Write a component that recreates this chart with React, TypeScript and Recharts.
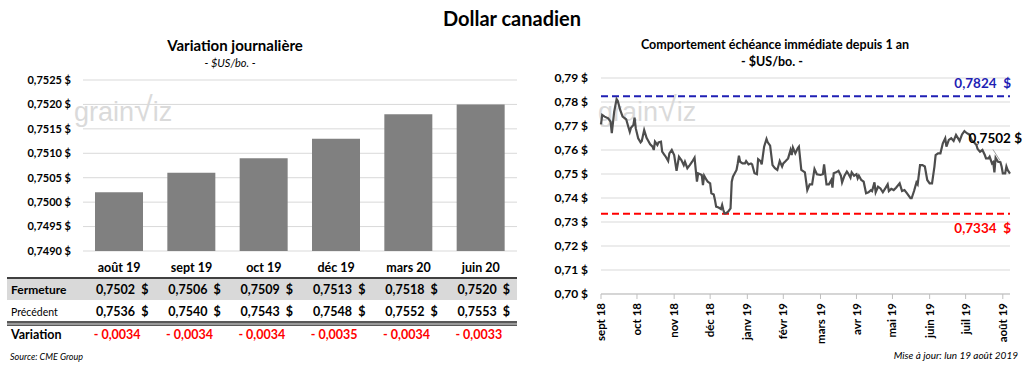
import React from "react";
import {
  BarChart,
  Bar,
  XAxis,
  YAxis,
  CartesianGrid,
  LineChart,
  Line,
  ReferenceLine,
  LabelList,
} from "recharts";

const FONT = "Lato, 'Open Sans', 'Liberation Sans', sans-serif";

// ---- Left panel data ----
const contractMonths = ["août 19", "sept 19", "oct 19", "déc 19", "mars 20", "juin 20"];
const closeValues = [0.7502, 0.7506, 0.7509, 0.7513, 0.7518, 0.752];
const previousValues = [0.7536, 0.754, 0.7543, 0.7548, 0.7552, 0.7553];
const variationValues = [-0.0034, -0.0034, -0.0034, -0.0035, -0.0034, -0.0033];
const barTicks = [0.749, 0.7495, 0.75, 0.7505, 0.751, 0.7515, 0.752, 0.7525];

// ---- Right panel data (days since start of axis, value) ----
const historyDays = [
  0, 1, 3, 6, 8, 9, 11, 13, 14, 16,
  18, 20, 21, 23, 24, 25, 27, 28, 29, 31,
  33, 34, 36, 38, 39, 41, 43, 44, 45, 47,
  48, 50, 51, 53, 54, 56, 57, 59, 61, 63,
  65, 67, 69, 70, 72, 74, 76, 78, 79, 80,
  81, 84, 85, 86, 88, 89, 91, 92, 94, 95,
  96, 98, 100, 101, 102, 103, 104, 106, 108, 109,
  110, 113, 114, 115, 116, 118, 120, 121, 123, 125,
  126, 128, 130, 131, 133, 134, 136, 138, 139, 141,
  143, 145, 147, 149, 151, 152, 154, 156, 158, 159,
  160, 162, 164, 165, 167, 170, 172, 174, 176, 178,
  180, 183, 185, 186, 188, 190, 192, 193, 194, 196,
  198, 200, 201, 203, 205, 206, 208, 209, 211, 213,
  214, 215, 217, 219, 221, 223, 225, 226, 228, 229,
  231, 233, 235, 237, 239, 240, 242, 244, 246, 249,
  251, 253, 255, 258, 259, 261, 263, 264, 266, 268,
  270, 272, 274, 276, 278, 279, 281, 283, 285, 287,
  288, 290, 292, 294, 296, 299, 301, 303, 305, 307,
  309, 311, 313, 314, 316, 318, 320, 321, 323, 324,
  326, 327, 328, 329, 331, 333, 334, 335, 337, 338,
  339, 341,
];
const historyValues = [
  0.7707, 0.7746, 0.7739, 0.7732, 0.7718, 0.767, 0.776, 0.7812, 0.7804, 0.7767,
  0.7739, 0.7732, 0.7728, 0.7693, 0.7676, 0.7693, 0.7704, 0.7735, 0.769, 0.7649,
  0.7632, 0.7638, 0.7683, 0.7651, 0.7642, 0.7624, 0.7614, 0.76, 0.7635, 0.7621,
  0.7632, 0.7635, 0.7593, 0.7579, 0.7572, 0.7554, 0.7586, 0.76, 0.7579, 0.7513,
  0.7572, 0.7558, 0.7537, 0.7551, 0.7524, 0.7537, 0.7551, 0.7568, 0.7517, 0.7468,
  0.7503, 0.7496, 0.7454, 0.7493, 0.7475, 0.7468, 0.7461, 0.742, 0.7415, 0.7392,
  0.7364, 0.736, 0.7354, 0.7371, 0.735, 0.7336, 0.7336, 0.7343, 0.7357, 0.7468,
  0.7489, 0.7517, 0.7544, 0.7576, 0.7551, 0.7544, 0.7544, 0.7554, 0.754, 0.7544,
  0.754, 0.7503, 0.7499, 0.7562, 0.7554, 0.754, 0.7614, 0.7646, 0.7632, 0.7618,
  0.7537, 0.7524, 0.7517, 0.7554, 0.7531, 0.7544, 0.7554, 0.7565, 0.76, 0.7579,
  0.761, 0.7586, 0.7607, 0.7614, 0.7517, 0.7507, 0.7433, 0.7457, 0.7457, 0.7521,
  0.7499, 0.7496, 0.7499, 0.754, 0.7457, 0.7457, 0.7475, 0.7443, 0.7503, 0.7507,
  0.7513, 0.7493, 0.7465, 0.7493, 0.751, 0.7503, 0.7485, 0.7507, 0.7493, 0.7499,
  0.7482, 0.7493, 0.7475, 0.7468, 0.742, 0.7424, 0.7433, 0.7429, 0.7465, 0.7424,
  0.7447, 0.744, 0.7424, 0.744, 0.7457, 0.7429, 0.7438, 0.7433, 0.7443, 0.7461,
  0.7429, 0.7433, 0.742, 0.7399, 0.7399, 0.7429, 0.7465, 0.7457, 0.7537, 0.7537,
  0.7531, 0.7475, 0.7461, 0.7461, 0.7531, 0.7579, 0.7586, 0.7586, 0.7628, 0.7649,
  0.7614, 0.7642, 0.7649, 0.7638, 0.7663, 0.7638, 0.7665, 0.7679, 0.767, 0.7665,
  0.7642, 0.7632, 0.7621, 0.7604, 0.7593, 0.76, 0.7579, 0.7565, 0.7565, 0.7572,
  0.7544, 0.7549, 0.7507, 0.7568, 0.7551, 0.7549, 0.7531, 0.7503, 0.7503, 0.7531,
  0.7517, 0.7502,
];
const monthTickDays = [0, 30, 61, 91, 122, 152, 183, 213, 243, 274, 304, 335];
const monthTickLabels = [
  "sept 18", "oct 18", "nov 18", "déc 18", "janv 19", "févr 19",
  "mars 19", "avr 19", "mai 19", "juin 19", "juil 19", "août 19",
];
const lineTicks = [0.7, 0.71, 0.72, 0.73, 0.74, 0.75, 0.76, 0.77, 0.78, 0.79];
const yearHigh = 0.7824;
const yearLow = 0.7334;

// ---- helpers ----
const fmt = (v: number, d: number) => v.toFixed(d).replace(".", ",");
const barData = contractMonths.map((m, i) => ({ month: m, close: closeValues[i] }));
const lineData = historyDays.map((d, i) => ({ day: d, value: historyValues[i] }));
const monthLabel = (d: number) => monthTickLabels[monthTickDays.indexOf(d)] ?? "";

// layout of the left panel
const BAR_LEFT = 83;
const BAR_RIGHT = 517;
const band = (BAR_RIGHT - BAR_LEFT) / contractMonths.length;
const colCenter = (i: number) => BAR_LEFT + band * (i + 0.5);

const T: React.FC<{
  x: number;
  y: number;
  size: number;
  bold?: boolean;
  italic?: boolean;
  color?: string;
  align?: "center" | "left" | "right";
  children: React.ReactNode;
}> = ({ x, y, size, bold, italic, color = "#000", align = "center", children }) => {
  const tx = align === "center" ? "-50%" : align === "right" ? "-100%" : "0";
  return (
    <div
      style={{
        position: "absolute",
        left: x,
        top: y,
        transform: `translate(${tx}, -50%)`,
        fontSize: size,
        fontWeight: bold ? 700 : 400,
        fontStyle: italic ? "italic" : "normal",
        color,
        whiteSpace: "pre",
        lineHeight: 1,
        fontFamily: FONT,
      }}
    >
      {children}
    </div>
  );
};

const Watermark: React.FC<{ x: number; y: number }> = ({ x, y }) => (
  <div
    style={{
      position: "absolute",
      left: x,
      top: y,
      fontFamily: "'Liberation Sans', sans-serif",
      fontSize: 27,
      color: "#dadada",
      whiteSpace: "pre",
      lineHeight: 1,
    }}
  >
    grain<span style={{ fontSize: 34 }}>√</span>iz
  </div>
);

const BarCategoryTick = (props: any) => {
  const { x, y, payload } = props;
  return (
    <text x={x} y={y} dy={13} textAnchor="middle" fontSize={12.5} fontWeight={700} fill="#000" fontFamily={FONT}>
      {payload.value}
    </text>
  );
};

const MonthTick = (props: any) => {
  const { x, y, payload } = props;
  return (
    <text
      transform={`translate(${x},${y + 2}) rotate(-90)`}
      textAnchor="end"
      dy="0.35em"
      fontSize={11.5}
      fontWeight={700}
      fill="#000"
      fontFamily={FONT}
    >
      {monthLabel(payload.value)}
    </text>
  );
};

const RefLabel = (color: string, text: string, above: boolean) => (props: any) => {
  const vb = props.viewBox || {};
  const right = (vb.x ?? 0) + (vb.width ?? 0);
  const y = vb.y ?? 0;
  return (
    <text
      x={right + 1}
      y={above ? y - 13 : y + 14}
      dy="0.35em"
      textAnchor="end"
      fontSize={13.5}
      fontWeight={700}
      fill={color}
      fontFamily={FONT}
      style={{ whiteSpace: "pre" }}
    >
      {text}
    </text>
  );
};

const LastLabel = (props: any) => {
  const { x, y, index } = props;
  if (index !== historyValues.length - 1) return null;
  return (
    <g>
      <line x1={x - 17} y1={y - 24} x2={x - 10} y2={y - 13} stroke="#a0a0a0" strokeWidth={1} />
      <text
        x={x + 12}
        y={y - 35}
        dy="0.35em"
        textAnchor="end"
        fontSize={13.5}
        fontWeight={700}
        fill="#000"
        fontFamily={FONT}
      >
        {`${fmt(historyValues[historyValues.length - 1], 4)} $`}
      </text>
    </g>
  );
};

export default function App() {
  return (
    <div
      style={{
        position: "absolute",
        left: 0,
        top: 0,
        width: 1024,
        height: 370,
        background: "#fff",
        fontFamily: FONT,
        overflow: "hidden",
      }}
    >
      <T x={512} y={18} size={20} bold>
        Dollar canadien
      </T>

      {/* Left panel */}
      <T x={235} y={45} size={15} bold>
        Variation journalière
      </T>
      <T x={230} y={62} size={11} italic>
        - $US/bo. -
      </T>
      <Watermark x={74} y={92} />

      <div style={{ position: "absolute", left: 0, top: 0 }}>
        <BarChart
          width={530}
          height={300}
          data={barData}
          margin={{ top: 80, right: 13, bottom: 19, left: 3 }}
        >
          <CartesianGrid vertical={false} stroke="#d9d9d9" strokeWidth={1} />
          <XAxis
            dataKey="month"
            axisLine={false}
            tickLine={false}
            height={30}
            tick={<BarCategoryTick />}
            interval={0}
          />
          <YAxis
            width={80}
            domain={[0.749, 0.7525]}
            ticks={barTicks}
            axisLine={false}
            tickLine={false}
            tickMargin={6}
            tick={{ fontSize: 11, fontWeight: 700, fill: "#000", fontFamily: FONT }}
            tickFormatter={(v: number) => `${fmt(v, 4)} $`}
            allowDataOverflow
          />
          <Bar dataKey="close" fill="#808080" barSize={48} isAnimationActive={false} />
        </BarChart>
      </div>

      {/* Table */}
      <div style={{ position: "absolute", left: 7, top: 277, width: 510, height: 2, background: "#404040" }} />
      <div style={{ position: "absolute", left: 7, top: 279, width: 510, height: 21, background: "#d9d9d9" }} />
      <div
        style={{
          position: "absolute",
          left: 7,
          top: 321,
          width: 510,
          height: 2,
          background: "#595959",
          borderBottom: "2px solid #9a9a9a",
        }}
      />
      <div style={{ position: "absolute", left: 7, top: 325, width: 510, height: 1, background: "#595959" }} />
      <T x={11} y={290} size={12} bold align="left">
        Fermeture
      </T>
      <T x={11} y={312} size={10.5} align="left">
        Précédent
      </T>
      <T x={11} y={335} size={12.5} bold align="left">
        Variation
      </T>
      {contractMonths.map((m, i) => (
        <React.Fragment key={m}>
          <T x={colCenter(i) + 3} y={290} size={12.5} bold>
            {`${fmt(closeValues[i], 4)}  $`}
          </T>
          <T x={colCenter(i) + 3} y={312} size={12.5} bold>
            {`${fmt(previousValues[i], 4)}  $`}
          </T>
          <T x={colCenter(i) - 2} y={335} size={12.5} bold color="#ff0000">
            {`- ${fmt(Math.abs(variationValues[i]), 4)}`}
          </T>
        </React.Fragment>
      ))}
      <T x={10} y={356} size={9} italic align="left">
        Source: CME Group
      </T>

      {/* Right panel */}
      <T x={775} y={45} size={12.5} bold>
        Comportement échéance immédiate depuis 1 an
      </T>
      <T x={772} y={62} size={12.5} bold>
        - $US/bo. -
      </T>
      <Watermark x={598} y={92} />

      <div style={{ position: "absolute", left: 520, top: 0 }}>
        <LineChart
          width={504}
          height={370}
          data={lineData}
          margin={{ top: 78, right: 14, bottom: 26, left: 11 }}
        >
          <CartesianGrid vertical={false} stroke="#d9d9d9" strokeWidth={1} />
          <XAxis
            dataKey="day"
            type="number"
            domain={[0, 341]}
            ticks={monthTickDays}
            interval={0}
            height={50}
            axisLine={{ stroke: "#bfbfbf" }}
            tickLine={{ stroke: "#bfbfbf" }}
            tickSize={5}
            tick={<MonthTick />}
          />
          <YAxis
            width={70}
            domain={[0.7, 0.79]}
            ticks={lineTicks}
            axisLine={false}
            tickLine={false}
            tickMargin={7}
            tick={{ fontSize: 12, fontWeight: 700, fill: "#000", fontFamily: FONT }}
            tickFormatter={(v: number) => `${fmt(v, 2)} $`}
          />
          <ReferenceLine
            y={yearHigh}
            stroke="#1f1fb4"
            strokeWidth={2}
            strokeDasharray="7 4"
            label={RefLabel("#1f1fb4", `${fmt(yearHigh, 4)}  $`, true)}
          />
          <ReferenceLine
            y={yearLow}
            stroke="#ff0000"
            strokeWidth={2}
            strokeDasharray="7 4"
            label={RefLabel("#ff0000", `${fmt(yearLow, 4)}  $`, false)}
          />
          <Line
            dataKey="value"
            type="linear"
            stroke="#4d4d4d"
            strokeWidth={2.2}
            dot={false}
            isAnimationActive={false}
          >
            <LabelList dataKey="value" content={<LastLabel />} />
          </Line>
        </LineChart>
      </div>

      <T x={1018} y={355} size={10} italic align="right">
        Mise à jour: lun 19 août 2019
      </T>
    </div>
  );
}
